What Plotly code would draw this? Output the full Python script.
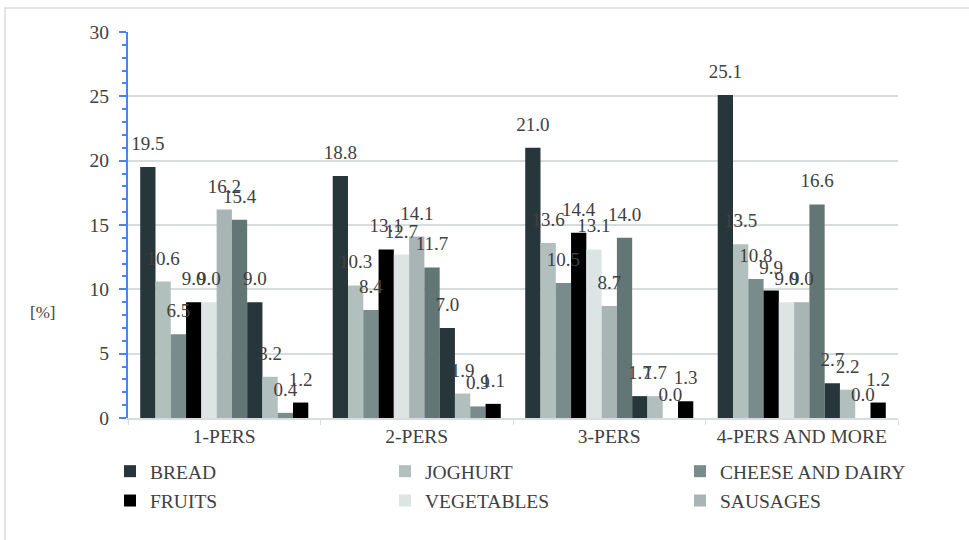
import plotly.graph_objects as go

# Household size groups and share of each food item [%]
categories = ["1-PERS", "2-PERS", "3-PERS", "4-PERS AND MORE"]

bread = [19.5, 18.8, 21.0, 25.1]
joghurt = [10.6, 10.3, 13.6, 13.5]
cheese_dairy = [6.5, 8.4, 10.5, 10.8]
fruits = [9.0, 13.1, 14.4, 9.9]
vegetables = [9.0, 12.7, 13.1, 9.0]
sausages = [16.2, 14.1, 8.7, 9.0]
series_7 = [15.4, 11.7, 14.0, 16.6]
series_8 = [9.0, 7.0, 1.7, 2.7]
series_9 = [3.2, 1.9, 1.7, 2.2]
series_10 = [0.4, 0.9, 0.0, 0.0]
series_11 = [1.2, 1.1, 1.3, 1.2]

names = ["BREAD", "JOGHURT", "CHEESE AND DAIRY", "FRUITS", "VEGETABLES",
         "SAUSAGES", "SERIES 7", "SERIES 8", "SERIES 9", "SERIES 10", "SERIES 11"]
values = [bread, joghurt, cheese_dairy, fruits, vegetables, sausages,
          series_7, series_8, series_9, series_10, series_11]
colors = ["#26363a", "#b1bfbd", "#798b8b", "#000000", "#dde5e4", "#a9b5b4",
          "#637676", "#26363a", "#b1bfbd", "#798b8b", "#000000"]
# legend column for the six listed items
legend_ids = ["legend", "legend2", "legend3", "legend", "legend2", "legend3"]

W, H = 969, 540
L, R, T, B = 128, 71, 32, 122
PW, PH = W - L - R, H - T - B

FONT = "Liberation Serif"
TXT = "#404040"
GRID = "#d9dcdc"
BLUE = "#4a86e8"
GAP = 0.127


def px_x(p):
    return (p - L) / PW


def px_y(p):
    return (H - B - p) / PH


fig = go.Figure()

for i, (nm, vals, col) in enumerate(zip(names, values, colors)):
    fig.add_trace(go.Bar(
        x=categories, y=vals, name=nm,
        marker=dict(color=col, line=dict(width=0)),
        showlegend=i < 6,
        legend=legend_ids[i] if i < 6 else "legend",
        legendgroup=nm,
    ))

# value labels, grouped the same way as the bars
for i, (nm, vals) in enumerate(zip(names, values)):
    fig.add_trace(go.Scatter(
        x=categories, y=vals, mode="markers+text",
        text=[f"{v:.1f}" for v in vals],
        textposition="top center",
        textfont=dict(family=FONT, size=19, color=TXT),
        marker=dict(size=18, opacity=0),
        showlegend=False, hoverinfo="skip", cliponaxis=False,
    ))

fig.update_layout(
    width=W, height=H,
    margin=dict(l=L, r=R, t=T, b=B),
    paper_bgcolor="white", plot_bgcolor="white",
    barmode="group", bargap=GAP, bargroupgap=0,
    scattermode="group", scattergap=GAP,
    font=dict(family=FONT, size=19, color=TXT),
    xaxis=dict(
        type="category",
        showline=True, linecolor=GRID, linewidth=1.5,
        ticks="outside", tickson="boundaries", ticklen=5, tickcolor=GRID,
        tickfont=dict(family=FONT, size=19.5, color=TXT),
        showgrid=False,
    ),
    yaxis=dict(
        range=[0, 30], dtick=5, tick0=0,
        showline=True, linecolor=BLUE, linewidth=2,
        ticks="outside", ticklen=7, tickcolor=BLUE, tickwidth=2,
        minor=dict(dtick=1, ticks="outside", ticklen=4, tickcolor=BLUE,
                   tickwidth=2, showgrid=False),
        showgrid=True, gridcolor=GRID, gridwidth=1.5,
        tickfont=dict(family=FONT, size=19.5, color=TXT),
        ticklabelstandoff=6,
        zeroline=False,
    ),
    shapes=[dict(
        type="rect", xref="paper", yref="paper", layer="below",
        x0=px_x(5), x1=px_x(990), y0=px_y(560), y1=px_y(8),
        line=dict(color="#dadada", width=1.5), fillcolor="rgba(0,0,0,0)",
    )],
    annotations=[dict(
        text="[%]", xref="paper", yref="paper", showarrow=False,
        x=px_x(42), y=px_y(312), xanchor="center", yanchor="middle",
        font=dict(family=FONT, size=17, color=TXT),
    )],
)

legend_style = dict(
    orientation="v", bgcolor="rgba(0,0,0,0)", borderwidth=0,
    font=dict(family=FONT, size=19.5, color=TXT),
    yanchor="top", y=px_y(452), xanchor="left",
    tracegroupgap=1, itemclick=False, itemdoubleclick=False,
)
fig.update_layout(
    legend=dict(legend_style, x=px_x(110)),
    legend2=dict(legend_style, x=px_x(385)),
    legend3=dict(legend_style, x=px_x(680)),
)

fig.write_html("out.html")
